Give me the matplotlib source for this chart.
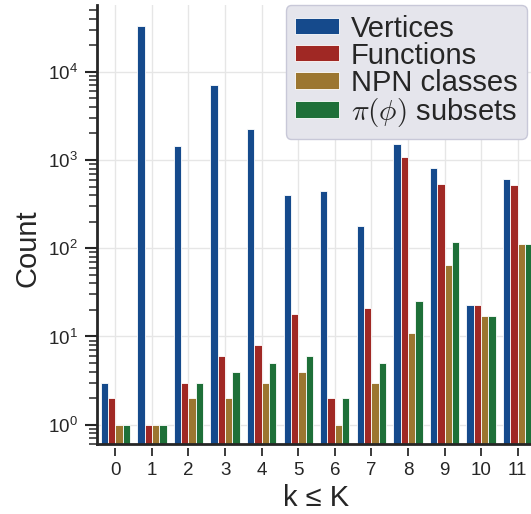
import numpy as np
import matplotlib
matplotlib.use("Agg")
import matplotlib.pyplot as plt
from matplotlib.markers import MarkerStyle
from matplotlib.path import Path
from matplotlib.transforms import Affine2D

plt.rcParams["font.family"] = ["Liberation Sans", "DejaVu Sans"]
plt.rcParams["mathtext.fontset"] = "custom"
plt.rcParams["mathtext.rm"] = "Liberation Sans"
plt.rcParams["mathtext.it"] = "Liberation Sans:italic"
plt.rcParams["mathtext.bf"] = "Liberation Sans:bold"

TEXT = "#262626"

# data
k_values = list(range(12))
vertices = [3, 33000, 1450, 7100, 2230, 400, 450, 180, 1510, 815, 23, 610]
functions = [2, 1, 3, 6, 8, 18, 2, 21, 1075, 532, 23, 518]
npn_classes = [1, 1, 2, 2, 3, 4, 1, 3, 11, 64, 17, 111]
pi_subsets = [1, 1, 3, 4, 5, 6, 2, 5, 25, 118, 17, 113]

series = [
    ("Vertices", vertices, "#154A8C"),
    ("Functions", functions, "#A02824"),
    ("NPN classes", npn_classes, "#9C7630"),
    (r"$\pi(\phi)$ subsets", pi_subsets, "#1E7038"),
]

fig = plt.figure(figsize=(5.31, 5.14), dpi=100)
ax = fig.add_axes([0.1827, 0.1356, 0.8267, 0.8547])

x = np.arange(len(k_values))
width = 0.2
for i, (label, vals, color) in enumerate(series):
    ax.bar(x + (i - 1.5) * width, vals, width, color=color, label=label,
           edgecolor="white", linewidth=0.6, zorder=1)

ax.set_yscale("log")
ax.set_ylim(0.6, 5.7e4)
ax.set_xlim(-0.5, 11.5)
ax.set_xticks(x)
ax.set_xticklabels([str(k) for k in k_values])

ax.grid(True, which="major", color="#E6E6E6", linewidth=1.0)
ax.set_axisbelow(True)

for side in ["top", "right"]:
    ax.spines[side].set_visible(False)
for side in ["left", "bottom"]:
    ax.spines[side].set_color(TEXT)
    ax.spines[side].set_linewidth(2.0)
    ax.spines[side].set_zorder(5)

ax.tick_params(axis="y", which="major", length=8.6, width=1.5, color=TEXT,
               labelsize=13.5, labelcolor=TEXT, pad=5)
ax.tick_params(axis="y", which="minor", length=5.8, width=1.1, color=TEXT)
ax.tick_params(axis="x", which="major", length=8.6, width=1.4, color="#3A3A3A",
               labelsize=13.5, labelcolor=TEXT, pad=4)

ax.set_ylabel("Count", fontsize=21, color=TEXT)
ax.yaxis.set_label_coords(-0.127, 0.447)
ax.set_xlabel("k ≤ K", fontsize=21, color=TEXT, labelpad=4)

leg = ax.legend(loc="upper right", bbox_to_anchor=(0.98, 1.0), borderaxespad=0,
                fontsize=21, frameon=True, fancybox=True, framealpha=1.0,
                facecolor="#E5E5EC", edgecolor="#C8C8D8",
                handlelength=1.5, handleheight=0.48, handletextpad=0.41,
                labelspacing=-0.03, borderpad=0.33)
for t in leg.get_texts():
    t.set_color(TEXT)
leg.get_texts()[3].set_math_fontfamily("cm")

# x ticks sit slightly below the spine, with a small gap
gap_marker = MarkerStyle(Path([(0, -0.33), (0, -1.0)]),
                         transform=Affine2D().scale(2.0))
for tick in ax.xaxis.get_major_ticks(len(x)):
    tick.tick1line.set_marker(gap_marker)

fig.savefig("out.png", dpi=100)
